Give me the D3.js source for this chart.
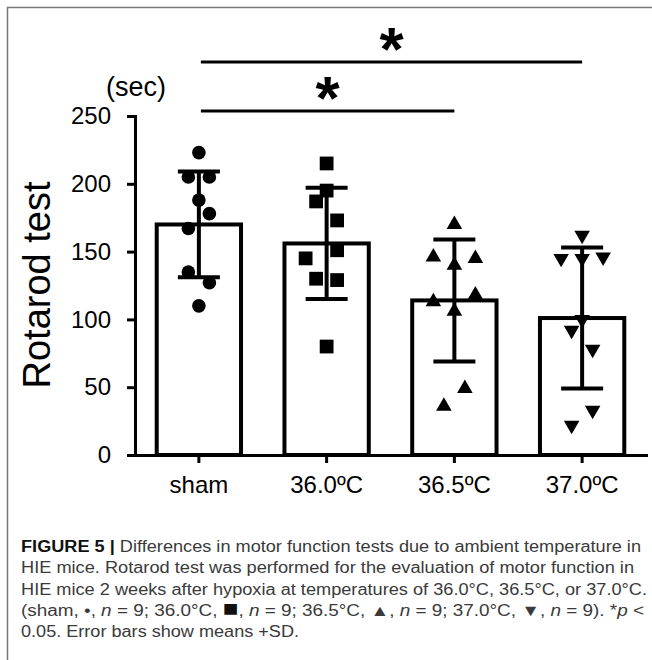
<!DOCTYPE html>
<html lang="en">
  <head>
    <meta charset="UTF-8" />
    <title>Rotarod test</title>
    <style>
      body {
        margin: 0;
        background: #fff;
      }
      svg {
        display: block;
        font-family: "Liberation Sans", Arial, Helvetica, sans-serif;
      }
      .axis path,
      .axis line {
        stroke: #000;
        stroke-width: 3px;
      }
      .axis text {
        fill: #000;
        font-size: 24px;
      }
      .caption {
        fill: #3a3a3a;
        font-size: 16px;
      }
    </style>
  </head>

  <body>
    <script src="https://cdn.jsdelivr.net/npm/d3@7"></script>
    <script>
      /* global d3 */

      const width = 652,
        height = 660;

      // groups and summary values (mean, SD)
      const groups = ["sham", "36.0ºC", "36.5ºC", "37.0ºC"];
      const means = [170, 156, 114, 101];
      const sds = [39, 41, 45, 52];
      const shapes = ["circle", "square", "up", "down"];

      // individual animals, n = 9 each
      const shamVals = [223, 205, 205, 188, 178, 167, 135, 127, 110];
      const t360Vals = [215, 195, 187, 173, 151, 145, 130, 129, 80];
      const t365Vals = [170, 146, 145, 140, 113, 118, 106, 49, 36];
      const t370Vals = [162, 145, 145, 146, 100, 92, 78, 33, 22];

      // scatter lane of each point (left / centre / right of the bar)
      const shamLane = [0, -1, 1, 0, 1, -1, -1, 1, 0];
      const t360Lane = [0, 0, -1, 1, 1, -2, -1, 1, 0];
      const t365Lane = [0, -2, 2, 0, -2, 2, 0, 1, -1];
      const t370Lane = [0, -2, 0, 2, 0, -1, 1, 1, -1];

      const yTicks = [0, 50, 100, 150, 200, 250];

      // significance brackets: [from, to]
      const sigPairs = [
        ["sham", "37.0ºC"],
        ["sham", "36.5ºC"]
      ];

      const captionLines = [
        [["FIGURE 5 |", "b"], [" Differences in motor function tests due to ambient temperature in"]],
        [["HIE mice. Rotarod test was performed for the evaluation of motor function in"]],
        [["HIE mice 2 weeks after hypoxia at temperatures of 36.0°C, 36.5°C, or 37.0°C."]],
        [
          ["(sham, •, "], ["n", "i"], [" = 9; 36.0°C, "], ["■", "big"], [", "], ["n", "i"],
          [" = 9; 36.5°C, ▲, "], ["n", "i"], [" = 9; 37.0°C, ▼, "], ["n", "i"],
          [" = 9). *"], ["p", "i"], [" <"]
        ],
        [["0.05. Error bars show means +SD."]]
      ];
      const captionWidths = [620, 613, 626, 623, 278];

      const allVals = [shamVals, t360Vals, t365Vals, t370Vals];
      const allLanes = [shamLane, t360Lane, t365Lane, t370Lane];

      const svg = d3
        .select("body")
        .append("svg")
        .attr("width", width)
        .attr("height", height);

      // grey frame around the figure
      svg
        .append("path")
        .attr("d", "M7.5,660V7.5H652")
        .attr("fill", "none")
        .attr("stroke", "#777")
        .attr("stroke-width", 1.5);

      const x = d3
        .scaleBand()
        .domain(groups)
        .range([135, 646])
        .paddingInner(0.34)
        .paddingOuter(0.17);

      const y = d3.scaleLinear().domain([0, 250]).range([455, 116]);

      const cx = g => x(g) + x.bandwidth() / 2;

      // bars
      svg
        .selectAll(".bar")
        .data(groups)
        .join("rect")
        .attr("class", "bar")
        .attr("x", d => x(d))
        .attr("width", x.bandwidth())
        .attr("y", (d, i) => y(means[i]))
        .attr("height", (d, i) => y(0) - y(means[i]))
        .attr("fill", "#fff")
        .attr("stroke", "#000")
        .attr("stroke-width", 4);

      // error bars (mean ± SD)
      const err = svg
        .selectAll(".err")
        .data(groups)
        .join("g")
        .attr("class", "err")
        .attr("stroke", "#000")
        .attr("stroke-width", 4);

      err
        .append("line")
        .attr("x1", d => cx(d))
        .attr("x2", d => cx(d))
        .attr("y1", (d, i) => y(means[i] + sds[i]))
        .attr("y2", (d, i) => y(means[i] - sds[i]));

      [1, -1].forEach(s => {
        err
          .append("line")
          .attr("x1", d => cx(d) - 21)
          .attr("x2", d => cx(d) + 21)
          .attr("y1", (d, i) => y(means[i] + s * sds[i]))
          .attr("y2", (d, i) => y(means[i] + s * sds[i]));
      });

      // points
      const symbolFor = {
        circle: d3.symbol(d3.symbolCircle, 145),
        square: d3.symbol(d3.symbolSquare, 190),
        up: d3.symbol(d3.symbolTriangle, 105),
        down: d3.symbol(d3.symbolTriangle, 105)
      };

      groups.forEach((g, gi) => {
        svg
          .append("g")
          .selectAll("path")
          .data(allVals[gi])
          .join("path")
          .attr("d", symbolFor[shapes[gi]]())
          .attr("transform", (d, i) => {
            const px = cx(g) + allLanes[gi][i] * 10.5;
            const rot = shapes[gi] === "down" ? " rotate(180)" : "";
            return `translate(${px},${y(d)})${rot}`;
          })
          .attr("fill", "#000");
      });

      // axes
      svg
        .append("g")
        .attr("class", "axis")
        .attr("transform", "translate(135,0)")
        .call(
          d3
            .axisLeft(y)
            .tickValues(yTicks)
            .tickSize(8)
            .tickSizeOuter(0)
            .tickPadding(16)
        );

      svg
        .append("g")
        .attr("class", "axis")
        .attr("transform", "translate(0,455)")
        .call(
          d3
            .axisBottom(x)
            .tickSize(8)
            .tickSizeOuter(0)
            .tickPadding(13)
        );

      svg.selectAll(".axis .domain").attr("stroke-linecap", "square");

      // axis titles
      svg
        .append("text")
        .attr("transform", "translate(50,285) rotate(-90)")
        .attr("text-anchor", "middle")
        .attr("font-size", 38)
        .text("Rotarod test");

      svg
        .append("text")
        .attr("x", 136)
        .attr("y", 96)
        .attr("text-anchor", "middle")
        .attr("font-size", 27)
        .text("(sec)");

      // significance lines
      const sigY = [62, 111];
      sigPairs.forEach((p, i) => {
        const x1 = cx(p[0]) + 2,
          x2 = cx(p[1]);
        svg
          .append("line")
          .attr("x1", x1)
          .attr("x2", x2)
          .attr("y1", sigY[i])
          .attr("y2", sigY[i])
          .attr("stroke", "#000")
          .attr("stroke-width", 3);
        svg
          .append("text")
          .attr("x", (x1 + x2) / 2)
          .attr("y", sigY[i] + 8)
          .attr("text-anchor", "middle")
          .attr("font-size", 62)
          .attr("font-weight", "bold")
          .text("*");
      });

      // caption
      captionLines.forEach((parts, li) => {
        const t = svg
          .append("text")
          .attr("class", "caption")
          .attr("x", 21)
          .attr("y", 552 + li * 21.3)
          .attr("textLength", captionWidths[li])
          .attr("lengthAdjust", "spacingAndGlyphs");
        parts.forEach(p => {
          const s = t.append("tspan").text(p[0]);
          if (p[1] === "b") s.attr("font-weight", "bold").attr("fill", "#111");
          if (p[1] === "i") s.attr("font-style", "italic");
          if (p[1] === "big") s.attr("font-size", 22).attr("fill", "#111");
        });
      });
    </script>
  </body>
</html>
